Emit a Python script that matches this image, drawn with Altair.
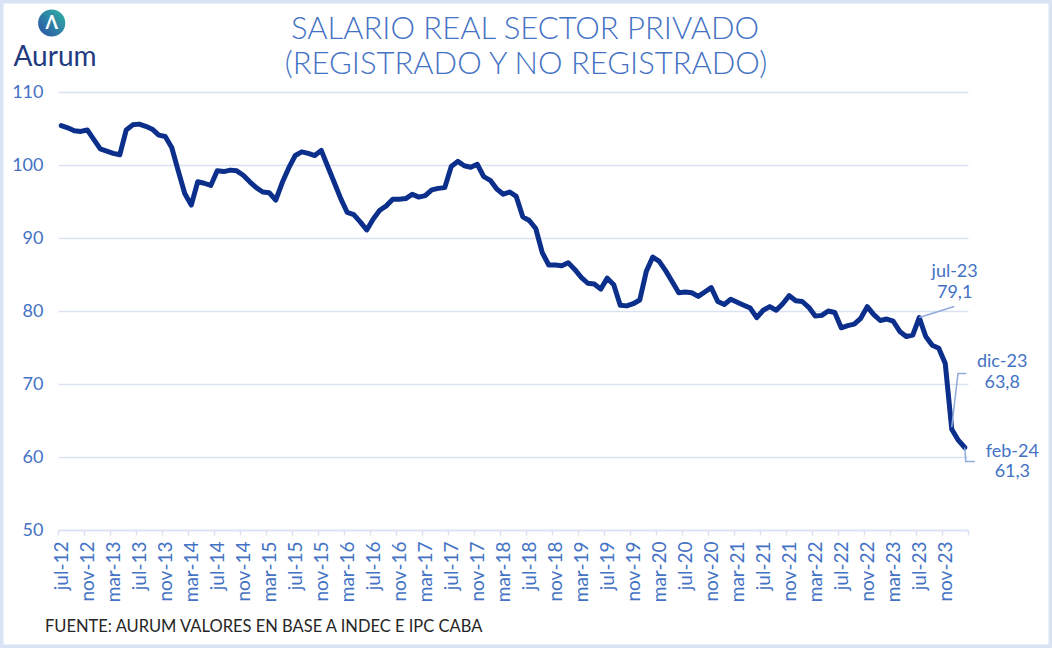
import altair as alt
import pandas as pd

# Real wage index, private sector (registered + unregistered), monthly jul-12 .. feb-24
salario_2012 = [105.4, 105.1, 104.7, 104.6, 104.8, 103.5]
salario_2013 = [102.2, 101.9, 101.6, 101.4, 104.8, 105.5, 105.6, 105.3, 104.9, 104.1, 103.9, 102.4]
salario_2014 = [99.2, 96.1, 94.5, 97.7, 97.5, 97.2, 99.2, 99.1, 99.3, 99.2, 98.6, 97.7]
salario_2015 = [96.9, 96.3, 96.2, 95.2, 97.6, 99.6, 101.3, 101.8, 101.6, 101.3, 102.0, 99.8]
salario_2016 = [97.6, 95.4, 93.5, 93.2, 92.2, 91.1, 92.6, 93.8, 94.4, 95.3, 95.3, 95.4]
salario_2017 = [96.0, 95.6, 95.8, 96.6, 96.8, 96.9, 99.8, 100.5, 99.9, 99.7, 100.1, 98.4]
salario_2018 = [97.9, 96.7, 96.0, 96.3, 95.7, 92.9, 92.4, 91.3, 88.0, 86.3, 86.3, 86.2]
salario_2019 = [86.6, 85.7, 84.6, 83.8, 83.7, 83.0, 84.5, 83.6, 80.8, 80.7, 81.0, 81.5]
salario_2020 = [85.4, 87.4, 86.8, 85.5, 84.0, 82.5, 82.6, 82.5, 82.0, 82.6, 83.2, 81.3]
salario_2021 = [80.9, 81.6, 81.2, 80.8, 80.4, 79.1, 80.1, 80.6, 80.1, 81.0, 82.1, 81.4]
salario_2022 = [81.3, 80.5, 79.3, 79.4, 80.0, 79.8, 77.7, 78.0, 78.2, 79.0, 80.6, 79.5]
salario_2023 = [78.7, 78.9, 78.6, 77.2, 76.5, 76.7, 79.1, 76.5, 75.3, 74.9, 72.8, 63.8]
salario_2024 = [62.3, 61.3]

tick_labels = [
    "jul-12", "nov-12", "mar-13", "jul-13", "nov-13", "mar-14", "jul-14", "nov-14",
    "mar-15", "jul-15", "nov-15", "mar-16", "jul-16", "nov-16", "mar-17", "jul-17",
    "nov-17", "mar-18", "jul-18", "nov-18", "mar-19", "jul-19", "nov-19", "mar-20",
    "jul-20", "nov-20", "mar-21", "jul-21", "nov-21", "mar-22", "jul-22", "nov-22",
    "mar-23", "jul-23", "nov-23",
]
month_names = ["ene", "feb", "mar", "abr", "may", "jun", "jul", "ago", "sep", "oct", "nov", "dic"]

# months that get a callout with their value
highlight_months = ["jul-23", "dic-23", "feb-24"]

series = (salario_2012 + salario_2013 + salario_2014 + salario_2015 + salario_2016
          + salario_2017 + salario_2018 + salario_2019 + salario_2020 + salario_2021
          + salario_2022 + salario_2023 + salario_2024)
n = len(series)
meses = [f"{month_names[(6 + i) % 12]}-{12 + (6 + i) // 12:02d}" for i in range(n)]
df = pd.DataFrame({"idx": list(range(n)), "mes": meses, "salario": series})

# plot geometry
W, H = 910, 438
PX_X = W / n          # pixels per month
PX_Y = H / 60.0       # pixels per index point

BLUE = "#4472c4"
NAVY = "#0b2f8a"
GRID = "#d9e1f2"
LEADER = "#8faadc"
FONT = "Lato"

# callouts: leader path offsets and text offsets, in pixels from the point
callout_style = {
    "jul-23": {"path": [(0, 0), (35, -11)], "text": (35.4, -45.3, -24.7)},
    "dic-23": {"path": [(0, -2), (6.2, -55.7), (14.6, -55.7)], "text": (50.4, -66.8, -46.2)},
    "feb-24": {"path": [(0, 0), (1, 14), (10, 14)], "text": (47.6, 4.0, 24.6)},
}

leader_rows, text_rows = [], []
for m in highlight_months:
    i = meses.index(m)
    v = series[i]
    st = callout_style[m]
    for k, (dx, dy) in enumerate(st["path"]):
        leader_rows.append({"mes": m, "k": k, "x": i + dx / PX_X, "y": v - dy / PX_Y})
    tdx, tdy1, tdy2 = st["text"]
    text_rows.append({"x": i + tdx / PX_X, "y": v - tdy1 / PX_Y, "t": m})
    text_rows.append({"x": i + tdx / PX_X, "y": v - tdy2 / PX_Y, "t": f"{v:.1f}".replace(".", ",")})
leaders = pd.DataFrame(leader_rows)
callout_text = pd.DataFrame(text_rows)

label_array = "[" + ",".join(f"'{t}'" for t in tick_labels) + "]"
tick_values = [4 * k - 0.5 for k in range(len(tick_labels))] + [n - 0.5]

x_scale = alt.Scale(domain=[-0.5, n - 0.5], nice=False, zero=False)
y_scale = alt.Scale(domain=[50, 110], nice=False, zero=False)

x_axis = alt.Axis(
    values=tick_values,
    labelExpr=f"{label_array}[round((datum.value + 0.5) / 4)] || ''",
    labelAngle=-90, labelAlign="right", labelBaseline="middle",
    labelOffset=PX_X / 2, labelFlush=False, labelOverlap=False, labelSeparation=0,
    labelFont=FONT, labelFontSize=19, labelColor=BLUE, labelPadding=6,
    tickSize=5, tickColor=GRID, tickWidth=1.5,
    domainColor=GRID, domainWidth=1.5, grid=False, title=None,
)
y_axis = alt.Axis(
    values=[50, 60, 70, 80, 90, 100, 110],
    grid=True, gridColor=GRID, gridWidth=1.5,
    domain=False, ticks=False, labelPadding=15,
    labelFont=FONT, labelFontSize=18, labelColor=BLUE, title=None,
)

one = pd.DataFrame({"k": [0]})

frame = alt.Chart(one).mark_rect(fillOpacity=0, stroke="#dae3f3", strokeWidth=7).encode(
    x=alt.value(-58), x2=alt.value(994), y=alt.value(-92), y2=alt.value(556)
)

logo_circle = alt.Chart(one).mark_circle(
    size=740, opacity=1,
    fill=alt.LinearGradient(
        gradient="linear", x1=1, y1=0, x2=0, y2=1,
        stops=[alt.GradientStop(offset=0, color="#2fb5a6"),
               alt.GradientStop(offset=1, color="#2c4ea5")],
    ),
).encode(x=alt.value(-6.3), y=alt.value(-69))
logo_glyph = alt.Chart(one).mark_text(
    text="Λ", font=FONT, fontSize=18, fontWeight="bold", color="white", baseline="middle"
).encode(x=alt.value(-6.3), y=alt.value(-68))
logo_word = alt.Chart(one).mark_text(
    text="Aurum", font=FONT, fontSize=28, color="#1f3a80", baseline="middle"
).encode(x=alt.value(-3), y=alt.value(-34))

title1 = alt.Chart(one).mark_text(
    text="SALARIO REAL SECTOR PRIVADO", font=FONT, fontSize=31, fontWeight=300,
    color=BLUE, baseline="middle"
).encode(x=alt.value(467), y=alt.value(-62))
title2 = alt.Chart(one).mark_text(
    text="(REGISTRADO Y NO REGISTRADO)", font=FONT, fontSize=31, fontWeight=300,
    color=BLUE, baseline="middle"
).encode(x=alt.value(468), y=alt.value(-27))
footer = alt.Chart(one).mark_text(
    text="FUENTE: AURUM VALORES EN BASE A INDEC E IPC CABA", font=FONT, fontSize=16.5,
    color="#262626", align="left", baseline="middle"
).encode(x=alt.value(-13), y=alt.value(535))

xq = lambda field: alt.X(field, scale=x_scale, axis=x_axis)
yq = lambda field: alt.Y(field, scale=y_scale, axis=y_axis)

line = alt.Chart(df).mark_line(
    color=NAVY, strokeWidth=5, strokeJoin="round", strokeCap="round"
).encode(x=xq("idx:Q"), y=yq("salario:Q"))

leader_lines = alt.Chart(leaders).mark_line(color=LEADER, strokeWidth=1.5).encode(
    x=xq("x:Q"), y=yq("y:Q"), detail="mes:N", order="k:Q",
)

callout_labels = alt.Chart(callout_text).mark_text(
    font=FONT, fontSize=18, color=BLUE, baseline="middle", align="center"
).encode(x=xq("x:Q"), y=yq("y:Q"), text="t:N")

chart = alt.layer(
    frame, logo_circle, logo_glyph, logo_word, title1, title2, footer,
    line, leader_lines, callout_labels,
).properties(
    width=W, height=H,
    autosize=alt.AutoSizeParams(type="none"),
    padding={"left": 58, "top": 92, "right": 84, "bottom": 118},
    background="white",
).configure_view(stroke=None)

chart.save("out.html", embed_options={"renderer": "svg", "actions": False})
